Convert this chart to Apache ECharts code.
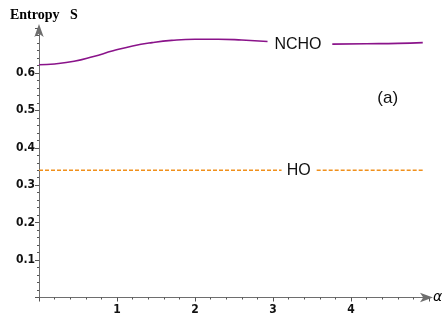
<!DOCTYPE html>
<html>
<head>
<meta charset="UTF-8">
<style>
html, body { margin: 0; padding: 0; background: #fff; }
#chart { width: 447px; height: 327px; }
</style>
</head>
<body>
<div id="chart"></div>
<script src="https://cdn.jsdelivr.net/npm/echarts@6/dist/echarts.min.js"></script>
<script>
// values
var alphaLeft = [0, 0.2, 0.45, 0.7, 0.95, 1.2, 1.45, 1.7, 2.0, 2.3, 2.6, 2.93];
var nchoLeft = [0.622, 0.624, 0.631, 0.644, 0.659, 0.672, 0.681, 0.687, 0.690, 0.690, 0.688, 0.684];
var alphaRight = [3.76, 4.2, 4.6, 4.92];
var nchoRight = [0.677, 0.678, 0.679, 0.681];
var hoAlphaLeft = [0, 3.11];
var hoAlphaRight = [3.56, 4.92];
var hoValue = 0.34;
var xTicks = ['1', '2', '3', '4'];
var yTicks = ['0.1', '0.2', '0.3', '0.4', '0.5', '0.6'];

function pairs(xs, ys) {
	return xs.map(function (x, i) { return [x, ys[i]]; });
}

var purple = '#8a138a';
var orange = '#f0901c';
var axisGray = '#6e6e6e';
var tickGray = '#555';

var myChart = echarts.init(document.getElementById('chart'));

// text placed at a data coordinate, no visible symbol
function textMark(x, y, txt, size) {
	return {
		coord: [x, y], value: txt,
		symbol: 'circle', symbolSize: 1, itemStyle: { color: 'rgba(0,0,0,0)' },
		label: { show: true, position: 'inside', formatter: txt, color: '#111', fontFamily: 'Liberation Sans', fontSize: size }
	};
}

var option = {
	animation: false,
	title: {
		text: 'Entropy   S',
		left: 5, top: 3,
		textStyle: { fontFamily: 'Liberation Serif', fontWeight: 'bold', fontSize: 14, color: '#000' }
	},
	grid: { left: 39, top: 28, width: 390, height: 269.5 },
	xAxis: {
		type: 'value', min: 0, max: 5, interval: 1,
		name: 'α', nameLocation: 'end', nameGap: 4,
		nameTextStyle: { fontFamily: 'DejaVu Sans', fontStyle: 'italic', fontSize: 14, color: '#000', verticalAlign: 'middle' },
		axisLine: { show: true, lineStyle: { color: axisGray, width: 1 }, symbol: ['none', 'arrow'], symbolSize: [7, 13], symbolOffset: [0, 4] },
		axisTick: { show: true, inside: false, length: 4, lineStyle: { color: tickGray, width: 1 } },
		minorTick: { show: true, splitNumber: 5, length: 2, lineStyle: { color: tickGray, width: 1 } },
		splitLine: { show: false },
		axisLabel: {
			margin: 6, fontFamily: 'DejaVu Sans Condensed', fontWeight: 'bold', fontSize: 12, color: '#111',
			formatter: function (v) { return xTicks.indexOf(String(v)) >= 0 ? String(v) : ''; }
		}
	},
	yAxis: {
		type: 'value', min: 0, max: 0.72, interval: 0.1,
		axisLine: { show: true, lineStyle: { color: axisGray, width: 1 }, symbol: ['none', 'arrow'], symbolSize: [7, 13], symbolOffset: [0, 4] },
		axisTick: { show: true, inside: false, length: 4, lineStyle: { color: tickGray, width: 1 } },
		minorTick: { show: true, splitNumber: 5, length: 2, lineStyle: { color: tickGray, width: 1 } },
		splitLine: { show: false },
		axisLabel: {
			margin: 4, fontFamily: 'DejaVu Sans Condensed', fontWeight: 'bold', fontSize: 12, color: '#111',
			formatter: function (v) {
				var s = (Math.round(v * 10) / 10).toFixed(1);
				return yTicks.indexOf(s) >= 0 && Math.abs(v * 10 - Math.round(v * 10)) < 1e-6 ? s : '';
			}
		}
	},
	series: [
		{
			type: 'line', data: pairs(alphaLeft, nchoLeft), smooth: true, showSymbol: false,
			lineStyle: { color: purple, width: 1.6 },
			markPoint: {
				data: [
					textMark(3.32, 0.675, 'NCHO', 16),
					textMark(4.47, 0.531, '(a)', 17)
				]
			}
		},
		{
			type: 'line', data: pairs(alphaRight, nchoRight), smooth: true, showSymbol: false,
			lineStyle: { color: purple, width: 1.6 }
		},
		{
			type: 'line', data: pairs(hoAlphaLeft, [hoValue, hoValue]), showSymbol: false,
			lineStyle: { color: orange, width: 1.3, type: [4, 2] },
			markPoint: {
				data: [textMark(3.33, hoValue, 'HO', 16)]
			}
		},
		{
			type: 'line', data: pairs(hoAlphaRight, [hoValue, hoValue]), showSymbol: false,
			lineStyle: { color: orange, width: 1.3, type: [4, 2] }
		}
	]
};

myChart.setOption(option);
</script>
</body>
</html>
